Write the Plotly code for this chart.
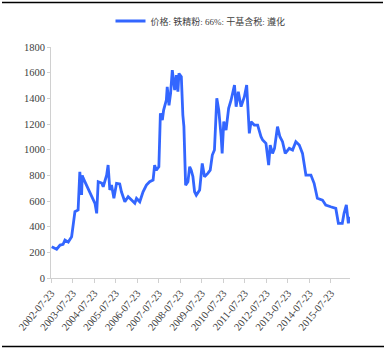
import plotly.graph_objects as go

dates = [
    "2002-08-04", "2002-10-27", "2002-12-24", "2003-02-13", "2003-03-17", "2003-05-12",
    "2003-07-08", "2003-08-04", "2003-09-02", "2003-10-26", "2003-11-24", "2003-12-24",
    "2004-01-04", "2004-01-19", "2004-08-07", "2004-09-05", "2004-10-01", "2004-11-28",
    "2004-12-25", "2005-02-21", "2005-03-18", "2005-04-16", "2005-05-15", "2005-06-24",
    "2005-08-08", "2005-10-01", "2005-10-30", "2005-12-27", "2006-02-21", "2006-04-20",
    "2006-06-14", "2006-07-13", "2006-09-06", "2006-11-01", "2006-12-28", "2007-02-21",
    "2007-04-20", "2007-05-16", "2007-06-14", "2007-07-27", "2007-08-22", "2007-09-24",
    "2007-10-16", "2007-12-01", "2007-12-16", "2008-01-15", "2008-02-11", "2008-03-11",
    "2008-04-20", "2008-05-19", "2008-06-14", "2008-07-02", "2008-08-11", "2008-09-06",
    "2008-09-24", "2008-10-23", "2008-12-01", "2008-12-31", "2009-01-26", "2009-02-24",
    "2009-03-24", "2009-04-22", "2009-06-18", "2009-08-01", "2009-09-09", "2009-11-03",
    "2009-12-14", "2010-01-19", "2010-02-24", "2010-04-05", "2010-05-08", "2010-06-18",
    "2010-07-05", "2010-08-01", "2010-09-09", "2010-10-23", "2010-12-04", "2011-01-30",
    "2011-02-27", "2011-04-05", "2011-05-22", "2011-07-17", "2011-08-25", "2011-10-09",
    "2011-11-07", "2012-01-01", "2012-02-27", "2012-04-24", "2012-05-22", "2012-07-17",
    "2012-09-01", "2012-09-27", "2012-11-06", "2012-12-09", "2013-01-29", "2013-03-11",
    "2013-04-24", "2013-06-09", "2013-08-17", "2013-10-12", "2013-12-06", "2014-02-02",
    "2014-03-29", "2014-05-26", "2014-08-19", "2014-10-12", "2014-12-06", "2015-03-03",
    "2015-04-27", "2015-07-20", "2015-10-15", "2015-11-28", "2016-02-02", "2016-03-03",
    "2016-04-11", "2016-05-15", "2016-06-06",
]
prices = [
    244, 224, 257, 263, 296, 280,
    322, 400, 517, 530, 828, 647,
    800, 780, 582, 504, 750, 740,
    711, 802, 880, 686, 725, 621,
    738, 733, 672, 594, 633, 607,
    582, 620, 594, 672, 724, 750,
    763, 880, 840, 867, 1283, 1231,
    1309, 1387, 1490, 1346, 1439, 1620,
    1464, 1581, 1452, 1594, 1568, 1270,
    1179, 724, 750, 867, 840, 789,
    672, 646, 686, 893, 789, 815,
    840, 958, 997, 1400, 1309, 1101,
    971, 1218, 1153, 1322, 1387, 1504,
    1335, 1452, 1335, 1413, 1504, 1127,
    1218, 1192, 1192, 1101, 1075, 1049,
    880, 1036, 971, 1010, 1179, 1101,
    1062, 971, 1010, 997, 1062, 1036,
    971, 802, 802, 738, 621, 607,
    569, 555, 542, 426, 426, 504,
    569, 426, 478,
]
tick_labels = ["%d-07-23" % y for y in range(2002, 2016)]
y_ticks = [0, 200, 400, 600, 800, 1000, 1200, 1400, 1600, 1800]
series_name = "价格: 铁精粉: 66%: 干基含税: 遵化"

fig = go.Figure()
fig.add_trace(go.Scatter(
    x=dates, y=prices, mode="lines", name=series_name,
    line=dict(color="#3366FF", width=2.8),
))

tick_font = dict(family="Liberation Serif, Times New Roman, serif", size=10.5, color="#404040")
fig.update_layout(
    width=386, height=351,
    margin=dict(l=51, r=36, t=47, b=73, autoexpand=False),
    paper_bgcolor="white", plot_bgcolor="white",
    showlegend=True,
    legend=dict(
        orientation="h", x=0.5, xanchor="center", y=(278 - 21) / 231, yanchor="middle",
        bgcolor="rgba(0,0,0,0)",
        font=dict(family="Liberation Serif, Noto Sans CJK SC, serif", size=9, color="#404040"),
        itemwidth=30,
    ),
    xaxis=dict(
        type="date",
        range=["2002-07-23", "2016-06-12"],
        tickvals=tick_labels, ticktext=tick_labels,
        tickangle=-50, tickfont=tick_font,
        showgrid=False, showline=True, linecolor="#d0d0d0", linewidth=1,
        ticks="outside", ticklen=4, tickcolor="#d0d0d0",
        zeroline=False,
    ),
    yaxis=dict(
        range=[0, 1800], tickvals=y_ticks, tickfont=tick_font,
        showgrid=False, showline=True, linecolor="#d0d0d0", linewidth=1,
        ticks="outside", ticklen=3, tickcolor="#d0d0d0",
        zeroline=False,
    ),
    shapes=[
        dict(type="line", xref="paper", yref="paper", x0=-49/299, x1=(383-51)/299,
             y0=(278-2.5)/231, y1=(278-2.5)/231, line=dict(color="black", width=1.5)),
        dict(type="line", xref="paper", yref="paper", x0=-49/299, x1=(384-51)/299,
             y0=(278-346.5)/231, y1=(278-346.5)/231, line=dict(color="black", width=1.5)),
    ],
)
fig.write_html("out.html")
